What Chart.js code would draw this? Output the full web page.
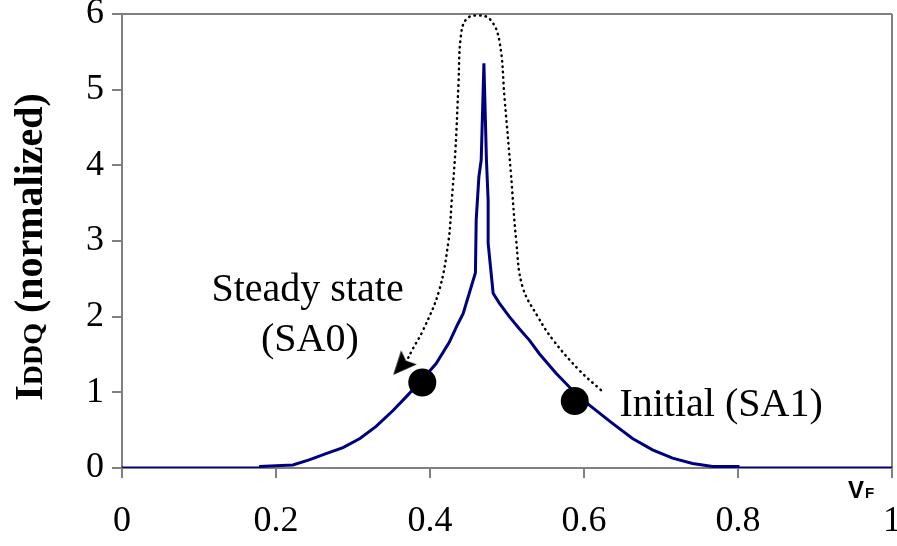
<!DOCTYPE html>
<html>
<head>
<script src="https://cdn.jsdelivr.net/npm/chart.js@4.4.0/dist/chart.umd.min.js"></script>
<style>
body{margin:0;background:#fff;}
#wrap{width:897px;height:546px;position:relative;}
</style>
</head>
<body>
<div id="wrap"><canvas id="iddqChart"></canvas></div>

<script>
// IDDQ vs VF
var vf   = [0, 0.18, 0.18, 0.20, 0.222, 0.244, 0.265, 0.287, 0.309, 0.330, 0.352, 0.369, 0.390, 0.408, 0.425, 0.436, 0.443, 0.451, 0.459, 0.4600, 0.4635, 0.4665, 0.470, 0.4733, 0.4755, 0.4755, 0.482, 0.490, 0.503, 0.516, 0.529, 0.542, 0.564, 0.581, 0.607, 0.637, 0.663, 0.689, 0.715, 0.741, 0.767, 0.80, 0.80, 1.0];
var iddq = [0, 0, 0.02, 0.03, 0.04, 0.11, 0.19, 0.27, 0.39, 0.55, 0.76, 0.94, 1.17, 1.38, 1.66, 1.90, 2.04, 2.31, 2.58, 3.28, 3.85, 4.07, 5.35, 4.07, 3.54, 2.97, 2.31, 2.18, 2.0, 1.84, 1.69, 1.51, 1.25, 1.07, 0.83, 0.59, 0.39, 0.24, 0.13, 0.06, 0.02, 0.02, 0, 0];

// dotted path (SA1 -> SA0)
var pathX = [0.622, 0.594, 0.560, 0.540, 0.520, 0.512, 0.505, 0.497, 0.490, 0.478, 0.462, 0.447, 0.440, 0.437, 0.433, 0.428, 0.424, 0.412, 0.391, 0.378, 0.370];
var pathY = [1.03, 1.29, 1.69, 2.0, 2.40, 3.0, 3.9, 4.86, 5.65, 5.93, 5.98, 5.93, 5.70, 5.08, 4.2, 3.5, 3.0, 2.35, 1.82, 1.58, 1.42];

var dotX = [0.390, 0.588];
var dotY = [1.13, 0.885];

var arrowX = [0.3627];
var arrowY = [1.35];

var xTickLabels = ['0', '0.2', '0.4', '0.6', '0.8', '1'];
var yTickLabels = ['0', '1', '2', '3', '4', '5', '6'];

var noteText  = ['Steady state', '(SA0)', 'Initial (SA1)'];
var noteX     = [0.241, 0.244, 0.646];
var noteY     = [2.35, 1.69, 0.83];
var noteAlign = ['center', 'center', 'left'];

function pts(xs, ys){
	var out = [];
	for (var i = 0; i < xs.length; i++) out.push({x: xs[i], y: ys[i]});
	return out;
}

// stealth arrowhead, pointing down-left
function makeArrow(){
	var c = document.createElement('canvas');
	c.width = 34; c.height = 34;
	var g = c.getContext('2d');
	var dx = -0.668, dy = 0.745;   // direction
	var nx = 0.745, ny = 0.668;    // normal
	function p(u, v){ return [17 + u*dx + v*nx, 17 + u*dy + v*ny]; }
	var shape = [p(12, 0), p(-11.5, 10.5), p(-7, 0), p(-11.5, -10.5)];
	g.fillStyle = '#000';
	g.beginPath();
	g.moveTo(shape[0][0], shape[0][1]);
	for (var i = 1; i < shape.length; i++) g.lineTo(shape[i][0], shape[i][1]);
	g.closePath();
	g.fill();
	return c;
}

var serif = '"Liberation Serif", "Times New Roman", serif';
var gray = '#808080';

var textPlugin = {
	id: 'texts',
	afterDraw: function(chart){
		var ctx = chart.ctx;
		var xs = chart.scales.x, ys = chart.scales.y;
		ctx.save();
		ctx.fillStyle = '#000';

		// annotations
		ctx.font = '40px ' + serif;
		ctx.textBaseline = 'middle';
		for (var i = 0; i < noteText.length; i++) {
			ctx.textAlign = noteAlign[i];
			ctx.fillText(noteText[i], xs.getPixelForValue(noteX[i]), ys.getPixelForValue(noteY[i]));
		}

		// y axis title: I + small DDQ + (normalized)
		ctx.save();
		ctx.textAlign = 'left';
		ctx.textBaseline = 'alphabetic';
		var big = 'bold 40px ' + serif, small = 'bold 28px ' + serif;
		ctx.font = big;   var w1 = ctx.measureText('I').width;
		ctx.font = small; var w2 = ctx.measureText('DDQ').width;
		ctx.font = big;   var w3 = ctx.measureText(' (normalized)').width;
		var total = w1 + w2 + w3;
		ctx.translate(42, 247);
		ctx.rotate(-Math.PI / 2);
		var x0 = -total / 2;
		ctx.font = big;   ctx.fillText('I', x0, 0);
		ctx.font = small; ctx.fillText('DDQ', x0 + w1, 0);
		ctx.font = big;   ctx.fillText(' (normalized)', x0 + w1 + w2, 0);
		ctx.restore();

		// x axis title VF
		ctx.textAlign = 'left';
		ctx.textBaseline = 'alphabetic';
		var vx = xs.getPixelForValue(0.943);
		var vy = chart.chartArea.bottom + 30;
		ctx.font = 'bold 24px "Liberation Sans", Arial, sans-serif';
		ctx.fillText('V', vx, vy);
		var vw = ctx.measureText('V').width;
		ctx.font = 'bold 15px "Liberation Sans", Arial, sans-serif';
		ctx.fillText('F', vx + vw + 1, vy);
		ctx.restore();
	}
};

var chart = new Chart(document.getElementById('iddqChart').getContext('2d'), {
	type: 'line',
	data: {
		datasets: [
			{
				data: pts(dotX, dotY),
				showLine: false,
				pointRadius: 14,
				pointBackgroundColor: '#000',
				pointBorderWidth: 0
			},
			{
				data: pts(arrowX, arrowY),
				showLine: false,
				pointStyle: makeArrow(),
				pointRadius: 17
			},
			{
				data: pts(vf, iddq),
				borderColor: '#00007f',
				borderWidth: 3,
				pointRadius: 0,
				tension: 0
			},
			{
				data: pts(pathX, pathY),
				borderColor: '#000',
				borderWidth: 2.5,
				borderDash: [0.5, 5],
				borderCapStyle: 'round',
				pointRadius: 0,
				tension: 0.4,
				clip: false
			}
		]
	},
	options: {
		responsive: true,
		maintainAspectRatio: false,
		animation: false,
		layout: {autoPadding: false, padding: {top: 14, right: 5, left: 0, bottom: 0}},
		plugins: {legend: {display: false}, tooltip: {enabled: false}},
		scales: {
			x: {
				type: 'linear',
				min: 0, max: 1,
				ticks: {
					stepSize: 0.2,
					padding: 22,
					color: '#000',
					font: {family: serif, size: 36},
					maxRotation: 0,
					callback: function(v, i){ return xTickLabels[i]; }
				},
				grid: {
					color: function(c){ return c.tick && c.tick.value === 1 ? gray : 'rgba(0,0,0,0)'; },
					lineWidth: 2,
					tickColor: gray,
					tickLength: 10
				},
				border: {color: gray, width: 2},
				afterFit: function(s){ s.height = 78; s.paddingLeft = 0; s.paddingRight = 0; }
			},
			y: {
				min: 0, max: 6,
				ticks: {
					stepSize: 1,
					padding: 8,
					color: '#000',
					font: {family: serif, size: 36},
					callback: function(v, i){ return yTickLabels[i]; }
				},
				grid: {
					color: function(c){ return c.tick && c.tick.value === 6 ? gray : 'rgba(0,0,0,0)'; },
					lineWidth: 2,
					tickColor: gray,
					tickLength: 10
				},
				border: {color: gray, width: 2},
				afterFit: function(s){ s.width = 122; s.paddingTop = 0; s.paddingBottom = 0; }
			}
		}
	},
	plugins: [textPlugin]
});
</script>
</body>
</html>
